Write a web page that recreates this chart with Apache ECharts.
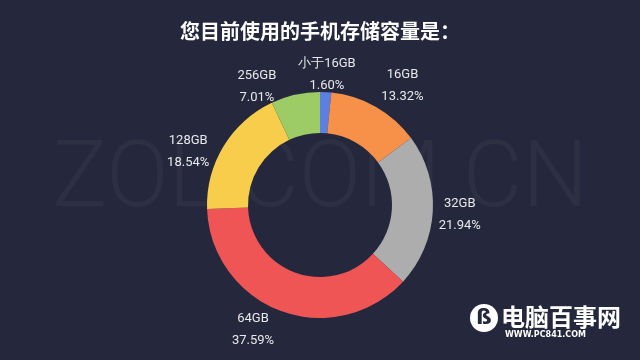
<!DOCTYPE html>
<html>
<head>
<meta charset="utf-8">
<script src="https://cdn.jsdelivr.net/npm/echarts@6/dist/echarts.min.js"></script>
<style>
html,body{margin:0;padding:0;background:#25283c;}
#c{width:640px;height:360px;}
</style>
</head>
<body>
<div id="c"></div>
<script>
// ---- data ----
var categories = ['小于16GB', '16GB', '32GB', '64GB', '128GB', '256GB'];
var shares = [1.60, 13.32, 21.94, 37.59, 18.54, 7.01];
var titleText = '您目前使用的手机存储容量是：';

// ---- styles / layout ----
var colors = ['#5b80e2', '#f7914a', '#adadad', '#f05556', '#f8cd4c', '#9dcb65'];
var CX = 320, CY = 205, R0 = 72, R1 = 113, LABEL_R = 138;
var labelNudge = [[0, 8], [14, 1], [2, 2], [-19, -5], [-14, 19], [-33, 16]];

var total = shares.reduce(function (a, b) { return a + b; }, 0);
function midAngle(i) {
  var cum = 0;
  for (var k = 0; k < i; k++) cum += shares[k];
  cum += shares[i] / 2;
  return (90 - cum / total * 360) * Math.PI / 180;
}

var pieData = categories.map(function (c, i) {
  return { name: c, value: shares[i], itemStyle: { color: colors[i] } };
});

var chart = echarts.init(document.getElementById('c'));
chart.setOption({
  backgroundColor: '#25283c',
  animation: false,
  title: {
    text: titleText,
    left: 'center',
    top: 16,
    textStyle: { color: '#ffffff', fontSize: 20, fontWeight: 'bold', fontFamily: 'Noto Sans CJK SC' }
  },
  graphic: [
    {
      type: 'text', z: 0, left: 'center', top: 137,
      style: { text: 'ZOL.COM.CN', fontSize: 92, fontFamily: 'Roboto', fontWeight: 300, fill: 'rgba(255,255,255,0.04)' }
    },
    {
      type: 'circle', z: 10, shape: { cx: 484, cy: 318, r: 14 }, style: { fill: '#ffffff' }
    },
    {
      type: 'text', z: 11, x: 484, y: 318,
      style: { text: 'ß', fontSize: 22, fontWeight: 'bold', fontFamily: 'DejaVu Sans', fill: '#25283c', align: 'center', verticalAlign: 'middle' }
    },
    {
      type: 'text', z: 10, x: 501, y: 305,
      style: { text: '电脑百事网', fontSize: 24, fontWeight: 'bold', fontFamily: 'Noto Sans CJK SC', fill: '#ffffff' }
    },
    {
      type: 'text', z: 10, x: 505, y: 331,
      style: { text: 'WWW.PC841.COM', fontSize: 8, fontWeight: 'bold', fontFamily: 'DejaVu Sans', fill: '#ffffff', letterSpacing: 3.3 }
    }
  ],
  series: [{
    type: 'pie',
    center: [CX, CY],
    radius: [R0, R1],
    startAngle: 90,
    clockwise: true,
    avoidLabelOverlap: false,
    data: pieData,
    label: {
      show: true,
      position: 'outside',
      formatter: function (p) { return p.name + '\n' + p.value.toFixed(2) + '%'; },
      color: '#e8e8ea',
      fontSize: 13,
      fontFamily: 'Roboto',
      lineHeight: 22,
      align: 'center'
    },
    labelLine: { show: false },
    labelLayout: function (p) {
      var i = p.dataIndex, a = midAngle(i);
      return {
        x: CX + LABEL_R * Math.cos(a) + labelNudge[i][0],
        y: CY - LABEL_R * Math.sin(a) + labelNudge[i][1],
        align: 'center',
        verticalAlign: 'middle'
      };
    },
    emphasis: { disabled: true }
  }]
});
</script>
</body>
</html>
